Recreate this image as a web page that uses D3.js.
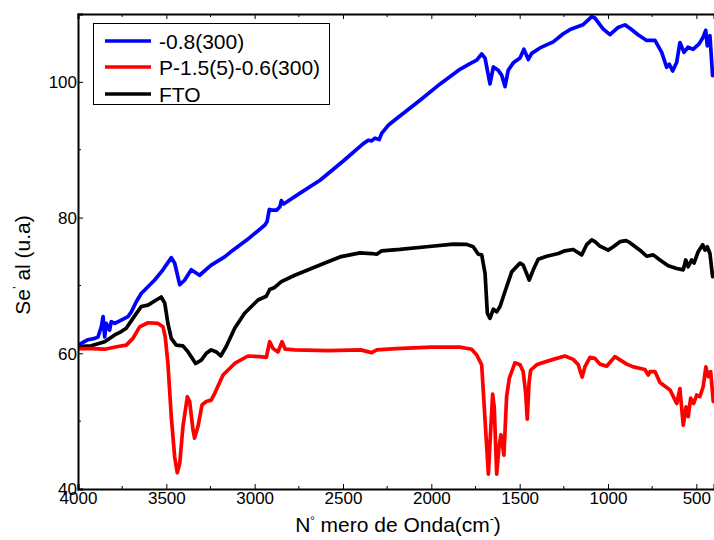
<!DOCTYPE html>
<html>
<head>
<meta charset="utf-8">
<script src="https://cdn.jsdelivr.net/npm/d3@7/dist/d3.min.js"></script>
<style>
  html, body { margin: 0; padding: 0; background: #fff; }
  svg { display: block; font-family: "Liberation Sans", Arial, sans-serif; }
</style>
</head>
<body>
<svg id="chart" width="714" height="540"></svg>
<script>
// FTIR spectra: [wavenumber (cm-1), signal (u.a)]
const seriesNames = ["-0.8(300)", "P-1.5(5)-0.6(300)", "FTO"];
const seriesColors = ["#0000ff", "#ff0000", "#000000"];

const blueSpectrum = [
  [4000,61.2],[3943,62.0],[3905,62.2],[3887,62.4],[3868,63.9],[3858,65.4],[3849,62.4],[3840,64.4],
  [3821,63.4],[3812,64.65],[3792,64.4],[3755,64.9],[3717,65.4],[3698,66.1],[3670,67.6],[3642,68.8],
  [3566,70.8],[3519,72.3],[3472,74.1],[3453,73.3],[3424,70.1],[3396,70.8],[3359,72.3],[3312,71.5],
  [3246,73.0],[3170,74.2],[3123,75.2],[3030,77.0],[2942,78.9],[2930,79.4],[2917,81.2],[2904,81.1],
  [2876,81.1],[2857,81.6],[2849,82.5],[2836,82.0],[2802,82.6],[2743,83.6],[2630,85.5],[2500,88.3],
  [2385,90.9],[2357,91.4],[2338,91.3],[2319,91.7],[2295,91.5],[2281,92.4],[2244,93.6],[2196,94.6],
  [2064,97.3],[1950,99.7],[1838,101.85],[1781,102.7],[1743,103.2],[1715,104.1],[1696,103.5],[1668,99.7],
  [1649,102.2],[1621,101.7],[1602,101.0],[1583,99.3],[1565,101.7],[1536,102.8],[1498,103.5],[1476,104.8],
  [1451,103.3],[1432,104.2],[1385,105.0],[1310,105.9],[1255,107.05],[1215,107.7],[1142,108.4],[1092,109.6],
  [1074,109.4],[1028,107.8],[989,106.95],[944,108.0],[904,108.4],[876,107.9],[830,106.95],[781,106.1],
  [734,106.1],[696,104.35],[668,102.15],[653,102.6],[634,101.6],[611,102.9],[593,105.8],[570,104.35],
  [547,105.1],[519,104.8],[484,105.6],[461,106.6],[447,107.6],[438,105.3],[423,106.8],[408,100.9]
];

const redSpectrum = [
  [4000,60.7],[3925,60.7],[3849,60.6],[3774,61.0],[3727,61.2],[3689,62.2],[3651,63.9],[3604,64.5],
  [3547,64.4],[3519,63.9],[3506,62.4],[3491,58.5],[3472,50.65],[3453,44.75],[3438,42.4],[3424,43.8],
  [3406,49.2],[3381,53.6],[3368,52.9],[3349,48.7],[3340,47.5],[3321,49.2],[3298,52.4],[3274,52.9],
  [3246,53.1],[3226,54.1],[3179,56.8],[3113,58.5],[3038,59.6],[2972,59.5],[2934,59.4],[2915,61.7],
  [2896,60.7],[2868,60.2],[2845,61.7],[2827,60.6],[2773,60.5],[2585,60.4],[2400,60.5],[2338,60.1],
  [2309,60.5],[2200,60.7],[2000,60.9],[1838,60.9],[1772,60.6],[1743,59.75],[1715,58.3],[1696,50.2],
  [1677,42.2],[1664,48.7],[1653,54.0],[1644,52.1],[1630,42.2],[1617,46.2],[1606,48.0],[1596,46.2],
  [1589,45.0],[1574,53.6],[1559,56.3],[1527,58.6],[1498,58.3],[1480,57.3],[1466,54.1],[1457,50.3],
  [1447,55.6],[1438,57.5],[1404,58.3],[1385,58.5],[1310,59.1],[1244,59.6],[1197,59.1],[1168,58.3],
  [1159,57.5],[1146,56.5],[1131,58.0],[1102,59.4],[1074,59.25],[1046,58.4],[1008,58.1],[961,59.5],
  [894,58.4],[857,58.0],[791,57.6],[772,56.8],[762,57.3],[734,57.3],[706,55.7],[649,54.6],
  [611,52.6],[593,54.8],[574,49.4],[558,52.1],[546,50.65],[532,53.4],[515,52.6],[498,53.85],
  [480,53.6],[461,55.1],[446,58.0],[433,56.55],[419,57.3],[404,52.9]
];

const blackSpectrum = [
  [4000,61.0],[3925,61.1],[3887,61.4],[3849,61.7],[3792,62.7],[3755,63.2],[3727,63.7],[3689,65.15],
  [3642,66.9],[3604,67.1],[3557,67.85],[3529,68.3],[3509,67.4],[3491,64.4],[3472,62.2],[3444,61.2],
  [3406,61.1],[3377,60.2],[3334,58.5],[3302,59.0],[3274,60.0],[3246,60.5],[3217,60.2],[3192,59.6],
  [3161,61.0],[3113,63.7],[3057,65.9],[2981,67.85],[2934,68.4],[2915,69.4],[2887,69.7],[2849,70.55],
  [2773,71.5],[2679,72.5],[2585,73.5],[2517,74.2],[2404,74.8],[2338,74.7],[2309,74.6],[2281,75.1],
  [2178,75.3],[2026,75.7],[1876,76.1],[1800,76.05],[1763,75.7],[1734,74.6],[1715,74.5],[1696,71.8],
  [1683,65.9],[1668,65.15],[1649,66.5],[1630,66.1],[1611,66.9],[1583,69.1],[1545,72.0],[1498,73.3],
  [1480,73.0],[1446,70.8],[1423,72.3],[1395,73.85],[1347,74.3],[1281,74.7],[1244,75.1],[1197,75.3],
  [1149,74.5],[1121,76.0],[1092,76.7],[1074,76.45],[1046,75.8],[999,75.2],[970,75.7],[932,76.45],
  [898,76.6],[876,76.3],[819,75.2],[781,74.3],[744,74.5],[706,73.75],[659,72.9],[611,72.5],
  [574,72.3],[560,73.75],[546,72.75],[527,73.75],[513,73.3],[489,75.0],[464,76.0],[451,75.2],
  [438,75.7],[423,74.7],[408,71.3]
];

const xTickValues = [4000, 3500, 3000, 2500, 2000, 1500, 1000, 500];
const xMinorTicks = [3750, 3250, 2750, 2250, 1750, 1250, 750];
const yTickValues = [40, 60, 80, 100];
const yMinorTicks = [50, 70, 90];

const margin = { left: 78, top: 14, right: 0, bottom: 51 };
const width = 714, height = 540;
const plotRight = width - margin.right;
const plotBottom = height - margin.bottom;

const svg = d3.select("#chart");

const x = d3.scaleLinear().domain([4000, 400]).range([margin.left, plotRight]);
const y = d3.scaleLinear().domain([40, 110]).range([plotBottom, margin.top]);

svg.append("defs").append("clipPath").attr("id", "plot-clip")
  .append("rect")
  .attr("x", margin.left).attr("y", margin.top)
  .attr("width", plotRight - margin.left).attr("height", plotBottom - margin.top);

// spectra, drawn back to front
const line = d3.line().x(d => x(d[0])).y(d => y(d[1]));
const spectra = [blackSpectrum, redSpectrum, blueSpectrum];
const spectraColors = [seriesColors[2], seriesColors[1], seriesColors[0]];
const plot = svg.append("g").attr("clip-path", "url(#plot-clip)");
spectra.forEach((s, i) => {
  plot.append("path")
    .datum(s)
    .attr("d", line)
    .attr("fill", "none")
    .attr("stroke", spectraColors[i])
    .attr("stroke-width", 3.7)
    .attr("stroke-linejoin", "round")
    .attr("stroke-linecap", "round");
});

// axes with inward ticks
const axisColor = "#000";
const bottomAxis = svg.append("g").attr("transform", `translate(0,${plotBottom})`)
  .call(d3.axisBottom(x).tickValues(xTickValues).tickSize(-5).tickPadding(3).tickFormat(d3.format("d")));
bottomAxis.append("g").selectAll("line").data(xMinorTicks).join("line")
  .attr("x1", d => x(d)).attr("x2", d => x(d)).attr("y1", 0).attr("y2", -3).attr("stroke", axisColor);

const topAxis = svg.append("g").attr("transform", `translate(0,${margin.top})`)
  .call(d3.axisTop(x).tickValues(xTickValues).tickSize(-5).tickFormat(""));
topAxis.append("g").selectAll("line").data(xMinorTicks).join("line")
  .attr("x1", d => x(d)).attr("x2", d => x(d)).attr("y1", 0).attr("y2", 3).attr("stroke", axisColor);

const leftAxis = svg.append("g").attr("transform", `translate(${margin.left},0)`)
  .call(d3.axisLeft(y).tickValues(yTickValues).tickSize(-5).tickPadding(1).tickFormat(d3.format("d")));
leftAxis.append("g").selectAll("line").data(yMinorTicks).join("line")
  .attr("y1", d => y(d)).attr("y2", d => y(d)).attr("x1", 0).attr("x2", 3).attr("stroke", axisColor);

[bottomAxis, topAxis, leftAxis].forEach(g => {
  g.select(".domain").attr("stroke", axisColor).attr("stroke-width", 2);
  g.selectAll(".tick line").attr("stroke", axisColor);
  g.selectAll(".tick text").attr("fill", "#000")
    .style("font-family", "'Liberation Sans', Arial, sans-serif").style("font-size", "17px");
});
leftAxis.selectAll(".tick text").attr("dy", "0.35em");
bottomAxis.selectAll(".tick text").attr("dy", "0.72em");

// axis titles
const xTitle = svg.append("text")
  .attr("x", 398).attr("y", 532)
  .attr("text-anchor", "middle")
  .style("font-size", "21px").attr("fill", "#000");
xTitle.append("tspan").text("N");
xTitle.append("tspan").attr("dy", -8).style("font-size", "11px").text("°");
xTitle.append("tspan").attr("dy", 8).text("\u00a0mero de Onda(cm");
xTitle.append("tspan").attr("dy", -9).style("font-size", "12px").text("-");
xTitle.append("tspan").attr("dy", 9).text(")");

const yTitle = svg.append("text")
  .attr("transform", "translate(30,265) rotate(-90)")
  .attr("text-anchor", "middle")
  .style("font-size", "21px").attr("fill", "#000");
yTitle.append("tspan").text("Se");
yTitle.append("tspan").attr("dy", -8).style("font-size", "12px").text("\u2019");
yTitle.append("tspan").attr("dy", 8).text("\u00a0al (u.a)");

// legend
const legend = svg.append("g");
legend.append("rect")
  .attr("x", 93.5).attr("y", 23.5).attr("width", 236).attr("height", 81)
  .attr("fill", "#fff").attr("stroke", "#000").attr("stroke-width", 1);
const rowY = [41, 67, 94];
seriesNames.forEach((name, i) => {
  legend.append("line")
    .attr("x1", 105).attr("x2", 151).attr("y1", rowY[i]).attr("y2", rowY[i])
    .attr("stroke", seriesColors[i]).attr("stroke-width", 3.6);
  legend.append("text")
    .attr("x", 159).attr("y", rowY[i]).attr("dy", "0.36em")
    .style("font-size", "21px").attr("fill", "#000")
    .text(name);
});
</script>
</body>
</html>
